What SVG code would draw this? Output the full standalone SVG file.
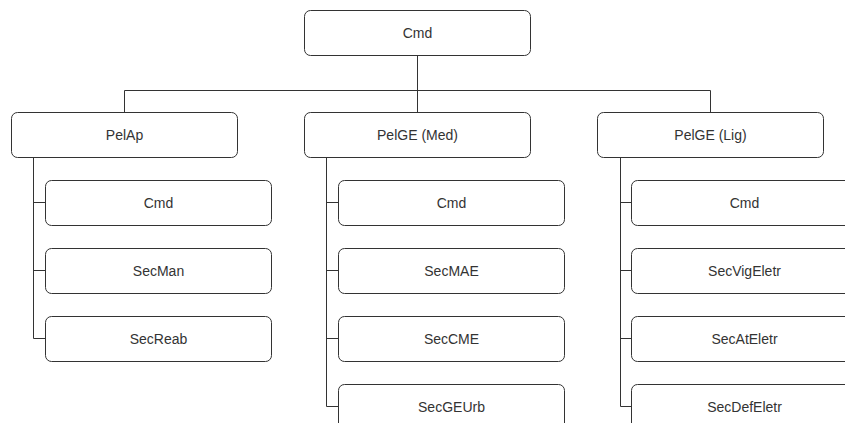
<svg xmlns="http://www.w3.org/2000/svg" width="845" height="423" viewBox="0 0 845 423">
<style>
.box{fill:#fff;stroke:#333;stroke-width:1}
.lbl{font-family:"Liberation Sans",Arial,sans-serif;font-size:14px;fill:#333;text-anchor:middle;dominant-baseline:central}
.ln{fill:none;stroke:#333;stroke-width:1}
</style>
<rect width="845" height="423" fill="#fff"/>
<g id="connectors">
<path class="ln" d="M417.5 55.5V90.5M124.5 112.5V90.5H710.5V112.5M417.5 90.5V112.5"/>
<path class="ln" d="M33.5 157.5V338.5H45.5M33.5 202.5H45.5M33.5 270.5H45.5"/>
<path class="ln" d="M326.5 157.5V406.5H338.5M326.5 202.5H338.5M326.5 270.5H338.5M326.5 338.5H338.5"/>
<path class="ln" d="M620.5 157.5V406.5H631.5M620.5 202.5H631.5M620.5 270.5H631.5M620.5 338.5H631.5"/>
</g>
<g id="root"><rect class="box" x="304.5" y="10.5" width="226" height="45" rx="6"/><text class="lbl" x="417.5" y="33">Cmd</text></g>
<g id="pelap"><rect class="box" x="11.5" y="112.5" width="226" height="45" rx="6"/><text class="lbl" x="124.5" y="135">PelAp</text></g>
<g id="pelge-med"><rect class="box" x="304.5" y="112.5" width="226" height="45" rx="6"/><text class="lbl" x="417.5" y="135">PelGE (Med)</text></g>
<g id="pelge-lig"><rect class="box" x="597.5" y="112.5" width="226" height="45" rx="6"/><text class="lbl" x="710.5" y="135">PelGE (Lig)</text></g>
<g id="ap-cmd"><rect class="box" x="45.5" y="180.5" width="226" height="45" rx="6"/><text class="lbl" x="158.5" y="203">Cmd</text></g>
<g id="ap-secman"><rect class="box" x="45.5" y="248.5" width="226" height="45" rx="6"/><text class="lbl" x="158.5" y="271">SecMan</text></g>
<g id="ap-secreab"><rect class="box" x="45.5" y="316.5" width="226" height="45" rx="6"/><text class="lbl" x="158.5" y="339">SecReab</text></g>
<g id="med-cmd"><rect class="box" x="338.5" y="180.5" width="226" height="45" rx="6"/><text class="lbl" x="451.5" y="203">Cmd</text></g>
<g id="med-secmae"><rect class="box" x="338.5" y="248.5" width="226" height="45" rx="6"/><text class="lbl" x="451.5" y="271">SecMAE</text></g>
<g id="med-seccme"><rect class="box" x="338.5" y="316.5" width="226" height="45" rx="6"/><text class="lbl" x="451.5" y="339">SecCME</text></g>
<g id="med-secgeurb"><rect class="box" x="338.5" y="384.5" width="226" height="45" rx="6"/><text class="lbl" x="451.5" y="407">SecGEUrb</text></g>
<g id="lig-cmd"><rect class="box" x="631.5" y="180.5" width="226" height="45" rx="6"/><text class="lbl" x="744.5" y="203">Cmd</text></g>
<g id="lig-secvig"><rect class="box" x="631.5" y="248.5" width="226" height="45" rx="6"/><text class="lbl" x="744.5" y="271">SecVigEletr</text></g>
<g id="lig-secat"><rect class="box" x="631.5" y="316.5" width="226" height="45" rx="6"/><text class="lbl" x="744.5" y="339">SecAtEletr</text></g>
<g id="lig-secdef"><rect class="box" x="631.5" y="384.5" width="226" height="45" rx="6"/><text class="lbl" x="744.5" y="407">SecDefEletr</text></g>
</svg>
